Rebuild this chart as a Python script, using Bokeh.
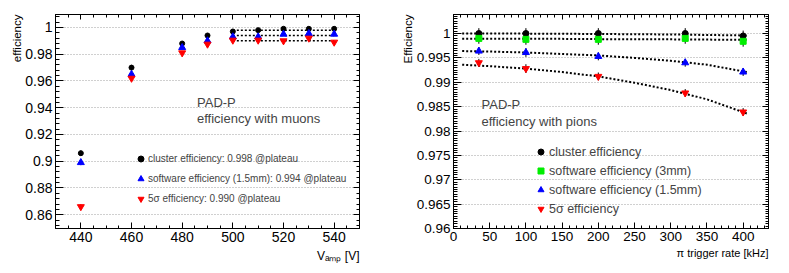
from bokeh.plotting import figure
from bokeh.layouts import row
from bokeh.models import (Range1d, LinearAxis, SingleIntervalTicker, CustomJSTickFormatter,
                          Legend, LegendItem, Label, Title)
from bokeh.embed import file_html
from bokeh.resources import INLINE

# ---------------- data: muons (left) ----------------
mu_vamp = [440, 460, 480, 490, 500, 510, 520, 530, 540]
mu_cluster = [0.906, 0.970, 0.988, 0.994, 0.997, 0.998, 0.999, 0.999, 0.999]
mu_software = [0.899, 0.965, 0.985, 0.990, 0.993, 0.993, 0.995, 0.9955, 0.995]
mu_5sigma = [0.866, 0.962, 0.981, 0.9875, 0.9905, 0.9905, 0.990, 0.992, 0.989]
mu_err = [0.002, 0.002, 0.0015, 0.0015, 0.0012, 0.0012, 0.0012, 0.0012, 0.0012]
plateau_vamp = [500, 540]
plateau_values = [0.998, 0.994, 0.990]
mu_names = ["cluster efficiency", "software efficiency (1.5mm)", "5\u03c3 efficiency"]

# ---------------- data: pions (right) ----------------
pi_rate = [35, 100, 200, 320, 400]
pi_cluster = [1.0000, 1.0000, 1.0000, 1.0000, 0.9995]
pi_sw3 = [0.9990, 0.9988, 0.9988, 0.9990, 0.9984]
pi_sw15 = [0.9964, 0.9961, 0.9953, 0.9940, 0.9921]
pi_5sigma = [0.9940, 0.9928, 0.9912, 0.9878, 0.9839]
pi_err_big = [0.0011, 0.0011, 0.0011, 0.0011, 0.0011]
pi_err_small = [0.0008, 0.0009, 0.0008, 0.0008, 0.0008]
fit_rate = [12, 50, 100, 150, 200, 250, 300, 350, 405]
fit_cluster = [1.0000, 1.0000, 0.99998, 0.99995, 0.9999, 0.99985, 0.9998, 0.9997, 0.9996]
fit_sw3 = [0.9989, 0.9989, 0.9989, 0.9989, 0.99885, 0.9988, 0.9988, 0.99875, 0.9987]
fit_sw15 = [0.9964, 0.9963, 0.9961, 0.9958, 0.9955, 0.9950, 0.9944, 0.9936, 0.9921]
fit_5sigma = [0.9936, 0.9933, 0.9928, 0.9921, 0.9912, 0.9899, 0.9884, 0.9865, 0.9836]
pi_names = ["cluster efficiency", "software efficiency (3mm)", "software efficiency (1.5mm)", "5\u03c3 efficiency"]

FONT = "Liberation Sans"
FMT = "return String(parseFloat(tick.toFixed(4)))"
EMPTY = "return ''"


def style_axis(ax, ticker, show_labels, tick_in, minor_in, font_size):
    ax.ticker = ticker
    ax.axis_line_color = "black"
    ax.major_tick_line_color = "black"
    ax.minor_tick_line_color = "black"
    ax.major_tick_in = tick_in
    ax.major_tick_out = 0
    ax.minor_tick_in = minor_in
    ax.minor_tick_out = 0
    if show_labels:
        ax.formatter = CustomJSTickFormatter(code=FMT)
        ax.major_label_text_font = FONT
        ax.major_label_text_font_size = font_size
        ax.major_label_text_color = "black"
        ax.major_label_standoff = 3
    else:
        ax.formatter = CustomJSTickFormatter(code=EMPTY)
        ax.major_label_standoff = 0
        ax.major_label_text_font_size = "1px"


def make_fig(width, height, xr, yr, borders, xtick, ytick, font_size):
    p = figure(width=width, height=height, x_range=xr, y_range=yr,
               output_backend="svg", toolbar_location=None,
               min_border_left=borders[0], min_border_right=borders[1],
               min_border_top=borders[2], min_border_bottom=borders[3])
    p.background_fill_color = "white"
    p.border_fill_color = "white"
    p.outline_line_color = "black"
    p.outline_line_width = 1
    p.xgrid.visible = False
    p.ygrid.grid_line_color = "#a0a0a0"
    p.ygrid.grid_line_dash = "1 2"
    p.ygrid.grid_line_width = 1
    p.ygrid.ticker = ytick()
    style_axis(p.xaxis[0], xtick(), True, 6, 3, font_size)
    style_axis(p.yaxis[0], ytick(), True, 8, 4, font_size)
    top = LinearAxis()
    style_axis(top, xtick(), False, 5, 3, font_size)
    p.add_layout(top, "above")
    right = LinearAxis()
    style_axis(right, ytick(), False, 6, 3, font_size)
    p.add_layout(right, "right")
    return p


def side_title(p, text, side, size, standoff):
    p.add_layout(Title(text=text, align="right", text_font=FONT, text_font_size=size,
                       text_font_style="normal", text_color="black", standoff=standoff), side)


# ---------------- left panel ----------------
pl = make_fig(383, 273, Range1d(430, 550), Range1d(0.8497, 1.0097), (55, 24, 13, 42),
              lambda: SingleIntervalTicker(interval=20, num_minor_ticks=4),
              lambda: SingleIntervalTicker(interval=0.02, num_minor_ticks=5), "14px")

for vals, col in [(mu_cluster, "black"), (mu_software, "blue"), (mu_5sigma, "red")]:
    pl.segment(x0=mu_vamp, x1=mu_vamp, y0=[v - e for v, e in zip(vals, mu_err)],
               y1=[v + e for v, e in zip(vals, mu_err)], line_color=col, line_width=1)
for val in plateau_values:
    pl.line(x=plateau_vamp, y=[val, val], line_color="black", line_width=1.5, line_dash="2 2")
rl1 = pl.scatter(mu_vamp, mu_cluster, marker="circle", size=5, color="black")
rl2 = pl.scatter(mu_vamp, mu_software, marker="triangle", size=7, color="blue")
rl3 = pl.scatter(mu_vamp, mu_5sigma, marker="inverted_triangle", size=7, color="red")

leg_l = Legend(items=[LegendItem(label=f"{n}: {v:.3f} @plateau", renderers=[r])
                      for n, v, r in zip(mu_names, plateau_values, [rl1, rl2, rl3])],
               location=(78, 22), orientation="vertical", background_fill_alpha=0,
               border_line_color=None, label_text_font=FONT, label_text_font_size="10px",
               glyph_width=15, glyph_height=15, label_height=15, spacing=5, padding=0,
               margin=0, label_standoff=0)
pl.add_layout(leg_l)

pl.add_layout(Label(x=141.5, y=126.5, x_units="screen", y_units="screen", text="PAD-P",
                    text_font=FONT, text_font_size="13px", text_baseline="alphabetic"))
pl.add_layout(Label(x=141.5, y=110, x_units="screen", y_units="screen", text="efficiency with muons",
                    text_font=FONT, text_font_size="13px", text_baseline="alphabetic"))
side_title(pl, "efficiency", "left", "11.5px", 0)
side_title(pl, "V\u2090\u2098\u209a [V]", "below", "12px", 4)

# ---------------- right panel ----------------
pr = make_fig(406, 273, Range1d(0, 435), Range1d(0.96, 1.0039), (70, 21, 14, 45),
              lambda: SingleIntervalTicker(interval=50, num_minor_ticks=5),
              lambda: SingleIntervalTicker(interval=0.005, num_minor_ticks=10), "13.5px")

for fit in [fit_cluster, fit_sw3, fit_sw15, fit_5sigma]:
    pr.line(x=fit_rate, y=fit, line_color="black", line_width=2, line_dash="2 2")
for vals, err in [(pi_cluster, pi_err_big), (pi_sw3, pi_err_big),
                  (pi_sw15, pi_err_small), (pi_5sigma, pi_err_small)]:
    pr.segment(x0=pi_rate, x1=pi_rate, y0=[v - e for v, e in zip(vals, err)],
               y1=[v + e for v, e in zip(vals, err)], line_color="black", line_width=1)
rr1 = pr.scatter(pi_rate, pi_cluster, marker="circle", size=6, color="black")
rr2 = pr.scatter(pi_rate, pi_sw3, marker="square", size=6, color="#00ee00")
rr3 = pr.scatter(pi_rate, pi_sw15, marker="triangle", size=7, color="blue")
rr4 = pr.scatter(pi_rate, pi_5sigma, marker="inverted_triangle", size=7, color="red")

leg_r = Legend(items=[LegendItem(label=n, renderers=[r]) for n, r in zip(pi_names, [rr1, rr2, rr3, rr4])],
               location=(80, 12), orientation="vertical", background_fill_alpha=0,
               border_line_color=None, label_text_font=FONT, label_text_font_size="12.5px",
               glyph_width=15, glyph_height=15, label_height=15, spacing=4, padding=0,
               margin=0, label_standoff=1)
pr.add_layout(leg_r)

pr.add_layout(Label(x=28, y=123.7, x_units="screen", y_units="screen", text="PAD-P",
                    text_font=FONT, text_font_size="13px", text_baseline="alphabetic"))
pr.add_layout(Label(x=28, y=107, x_units="screen", y_units="screen", text="efficiency with pions",
                    text_font=FONT, text_font_size="13px", text_baseline="alphabetic"))
side_title(pr, "Efficiency", "left", "11.5px", 0)
side_title(pr, "\u03c0 trigger rate [kHz]", "below", "11px", 2)

layout = row(pl, pr, spacing=0)
open("out.html", "w").write(file_html(layout, INLINE))
